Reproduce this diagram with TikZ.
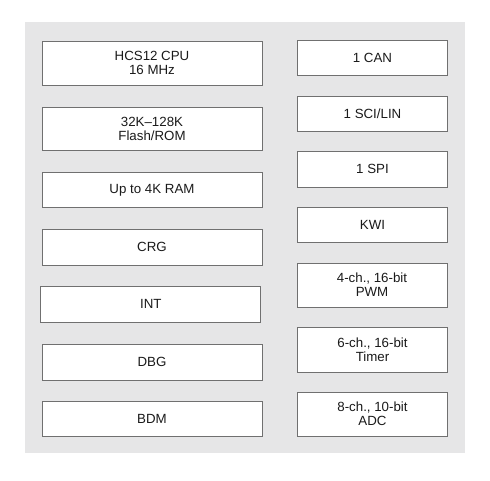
\documentclass[tikz,border=0pt]{standalone}
\usepackage{fontspec}
\setmainfont{Liberation Sans}
\definecolor{bggray}{HTML}{E6E6E7}
\definecolor{edgegray}{HTML}{707070}
\definecolor{txt}{HTML}{1A1A1A}
\begin{document}
\begin{tikzpicture}[x=1pt,y=-1pt,
  blk/.style={draw=edgegray,line width=1pt,fill=white,inner sep=0pt,
    align=center,text=txt,font=\fontsize{13.3}{14}\selectfont},
  lblk/.style={blk,minimum width=220pt},
  rblk/.style={blk,minimum width=150pt}]
\useasboundingbox (0,0) rectangle (490,480);
\fill[bggray] (25,22) rectangle (465,453);
% left column
\node[lblk,minimum height=44pt] (cpu) at (152,63) {HCS12 CPU\\16 MHz};
\node[lblk,minimum height=43pt] (flash) at (152,128.5) {32K–128K\\Flash/ROM};
\node[lblk,minimum height=35pt] (ram) at (152,190.3) {Up to 4K RAM};
\node[lblk,minimum height=36pt] (crg) at (152,247) {CRG};
\node[lblk,minimum height=36pt] (int) at (150.8,304) {INT};
\node[lblk,minimum height=36pt] (dbg) at (152,362) {DBG};
\node[lblk,minimum height=35pt] (bdm) at (152,418.5) {BDM};
% right column
\node[rblk,minimum height=35pt] (can) at (372.5,57.5) {1 CAN};
\node[rblk,minimum height=35pt] (sci) at (372.5,113.5) {1 SCI/LIN};
\node[rblk,minimum height=36pt] (spi) at (372.5,169) {1 SPI};
\node[rblk,minimum height=35pt] (kwi) at (372.5,224.5) {KWI};
\node[rblk,minimum height=44pt] (pwm) at (372,285) {4-ch., 16-bit\\PWM};
\node[rblk,minimum height=45pt] (timer) at (372.5,349.5) {6-ch., 16-bit\\Timer};
\node[rblk,minimum height=44pt] (adc) at (372.5,414) {8-ch., 10-bit\\ADC};
\end{tikzpicture}
\end{document}
